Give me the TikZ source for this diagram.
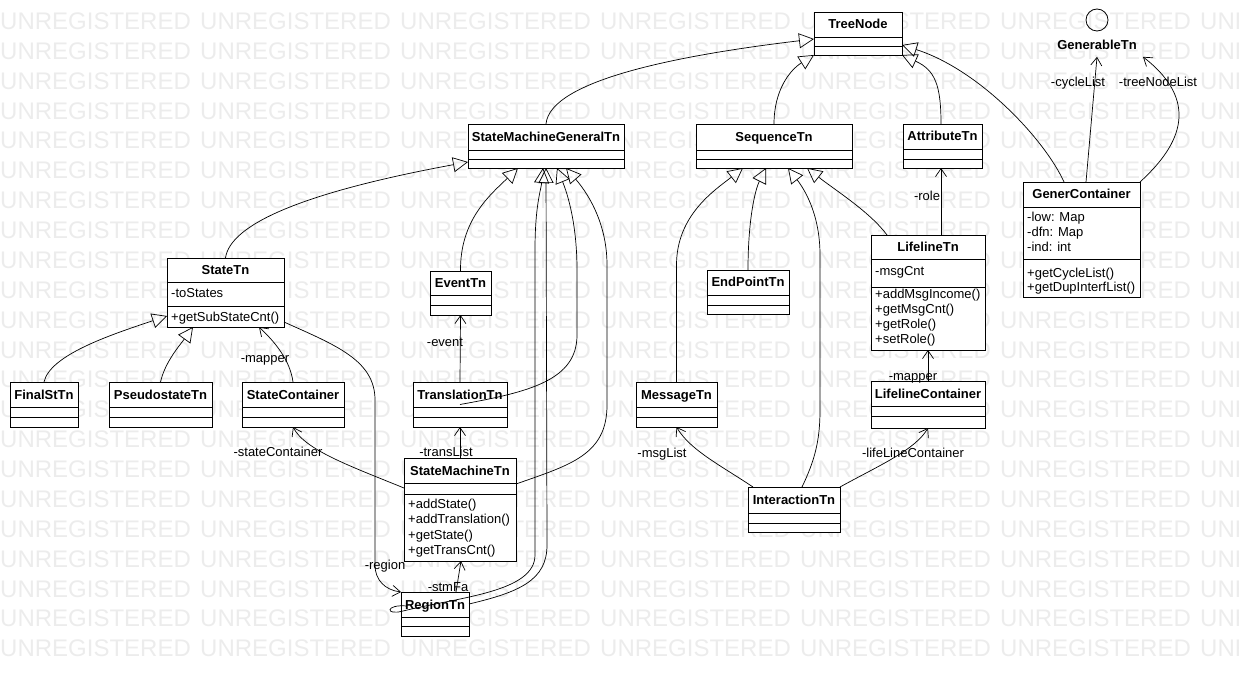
\documentclass[tikz,border=0pt]{standalone}
\usepackage{fontspec}
\setmainfont{Liberation Sans}
\usetikzlibrary{arrows.meta}
\definecolor{markGray}{RGB}{236,236,236}

% class box: name, left, top, right, bottom, first rule, second rule, title
\newcommand{\classbox}[8]{%
  \node[clsbox, minimum width={#4pt-#2pt}, minimum height={#5pt-#3pt}, anchor=north west] (#1) at (#2,#3) {};
  \draw[boxline] (#2,#6) -- (#4,#6) (#2,#7) -- (#4,#7);
  \node[clstitle] (#1-title) at ({(#2+#4)/2},{(#3+#6)/2+4.5}) {#8};
}

\begin{document}
\begin{tikzpicture}[x=1pt, y=-1pt,
    clsbox/.style={draw=black, fill=white, line width=0.8pt, inner sep=0pt, outer sep=0pt},
    boxline/.style={draw=black, line width=0.8pt},
    clstitle/.style={font=\bfseries\fontsize{13}{15}\selectfont, anchor=base, inner sep=0pt},
    member/.style={font=\fontsize{13}{15}\selectfont, anchor=base west, inner sep=0pt},
    rolename/.style={font=\fontsize{13}{15}\selectfont, anchor=base, inner sep=0pt},
    genline/.style={draw=black, line width=0.7pt, -{Triangle[open, length=15pt, width=15pt]}},
    assocline/.style={draw=black, line width=0.7pt, -{Straight Barb[length=8pt, width=11pt]}},
    watermark/.style={font=\fontsize{24}{26}\selectfont, text=markGray, anchor=base west, inner sep=0pt}]
  \useasboundingbox (0,0) rectangle (1239,676);

  % background stamp
  \begin{scope}
    \clip (0,0) rectangle (1239,676);
    \foreach \r in {0,...,21}
      \foreach \c in {0,...,6}
        \node[watermark] (wm-\r-\c) at (200*\c, 29.5+29.87*\r) {UNREGISTERED};
  \end{scope}

  % classes
  \classbox{TreeNode}{814}{12}{902}{55}{37}{46}{TreeNode}
  \classbox{SMGeneral}{468}{124}{624}{168}{150}{159}{StateMachineGeneralTn}
  \classbox{SequenceTn}{696}{124}{852}{168}{150}{159}{SequenceTn}
  \classbox{AttributeTn}{903}{124}{982}{168}{149}{159}{AttributeTn}
  \classbox{GenerContainer}{1023}{182}{1140}{297}{207}{259}{GenerContainer}
  \classbox{StateTn}{167}{258}{284}{327}{282}{306}{StateTn}
  \classbox{EventTn}{430}{271}{491}{315}{295}{305}{EventTn}
  \classbox{EndPointTn}{707}{270}{789}{314}{295}{305}{EndPointTn}
  \classbox{LifelineTn}{871}{235}{985}{350}{259}{287}{LifelineTn}
  \classbox{FinalStTn}{10}{382}{78}{427}{407}{417}{FinalStTn}
  \classbox{PseudostateTn}{109}{382}{212}{427}{407}{417}{PseudostateTn}
  \classbox{StateContainer}{242}{382}{344}{427}{407}{417}{StateContainer}
  \classbox{TranslationTn}{413}{382}{507}{427}{407}{417}{TranslationTn}
  \classbox{MessageTn}{636}{382}{717}{427}{407}{417}{MessageTn}
  \classbox{LifelineContainer}{871}{381}{985}{428}{406}{416}{LifelineContainer}
  \classbox{StateMachineTn}{404}{458}{516}{561}{483}{494}{StateMachineTn}
  \classbox{InteractionTn}{748}{487}{840}{532}{513}{523}{InteractionTn}
  \classbox{RegionTn}{401}{592}{469}{636}{617}{626}{RegionTn}

  % interface
  \node[draw, circle, minimum size=22pt, inner sep=0pt, line width=0.8pt] (GenerableTn-icon) at (1097,20) {};
  \node[clstitle] (GenerableTn) at (1097,49.5) {GenerableTn};

  % members
  \node[member] (StateTn-a1) at (171,297.5) {-toStates};
  \node[member] (StateTn-m1) at (171,321.5) {+getSubStateCnt()};
  \node[member] (LifelineTn-a1) at (875,275.5) {-msgCnt};
  \foreach \t [count=\i from 0] in {{+addMsgIncome()},{+getMsgCnt()},{+getRole()},{+setRole()}}
    \node[member] (LifelineTn-m\i) at (875,298.5+15*\i) {\t};
  \foreach \t [count=\i from 0] in {{-low: Map},{-dfn: Map},{-ind: int}}
    \node[member] (GenerContainer-a\i) at (1027,221.5+15*\i) {\t};
  \foreach \t [count=\i from 0] in {{+getCycleList()},{+getDupInterfList()}}
    \node[member] (GenerContainer-m\i) at (1027,277+14.6*\i) {\t};
  \foreach \t [count=\i from 0] in {{+addState()},{+addTranslation()},{+getState()},{+getTransCnt()}}
    \node[member] (StateMachineTn-m\i) at (408,508+15.5*\i) {\t};

  % generalisations
  \draw[genline] (SMGeneral.north) .. controls (550,80) and (680,55) .. ([yshift=-5.5pt]TreeNode.west);
  \draw[genline] (SequenceTn.north) .. controls (774,90) and (790,70) .. (TreeNode.south west);
  \draw[genline] ([xshift=-1.5pt]AttributeTn.north) .. controls (941,85) and (935,70) .. (TreeNode.south east);
  \draw[genline] ([xshift=-17.5pt]GenerContainer.north) .. controls (1045,140) and (980,70) .. ([yshift=-11.5pt]TreeNode.east);
  \draw[genline] (StateTn.north) .. controls (230,225) and (300,193) .. ([yshift=-16pt]SMGeneral.west);
  \draw[genline] (FinalStTn.north) .. controls (50,355) and (110,335) .. ([yshift=-23.5pt]StateTn.west);
  \draw[genline] (PseudostateTn.north) .. controls (165,362) and (180,345) .. ([xshift=-32.5pt]StateTn.south);
  \draw[genline] (EventTn.north) .. controls (460,220) and (490,195) .. ([xshift=-28pt]SMGeneral.south);
  \draw[genline] (TranslationTn.center) .. controls (530,392) and (577,380) .. (577,335) -- (577,270)
    .. controls (577,225) and (568,195) .. ([xshift=11pt]SMGeneral.south);
  \draw[genline] ([yshift=25.5pt]StateMachineTn.east) .. controls (570,465) and (607,455) .. (607,405) -- (607,265)
    .. controls (607,220) and (585,190) .. ([xshift=20pt]SMGeneral.south);
  \draw[genline] ([xshift=-28pt,yshift=8pt]RegionTn.center) .. controls (385,604) and (385,616) .. (403,611)
    .. controls (460,597) and (535,592) .. (535,555) -- (535,250)
    .. controls (535,205) and (541,190) .. ([xshift=-3pt]SMGeneral.south);
  \draw[genline] ([yshift=10pt]RegionTn.east) .. controls (520,592) and (547,580) .. (547,545) -- (SMGeneral.south);
  \draw[genline] (MessageTn.north) -- (676.5,265) .. controls (676.5,215) and (715,190) .. ([xshift=-31pt]SequenceTn.south);
  \draw[genline] (EndPointTn.north) .. controls (748,220) and (755,190) .. ([xshift=-8pt]SequenceTn.south);
  \draw[genline] ([xshift=8pt]InteractionTn.north) .. controls (815,460) and (820,440) .. (820,410) -- (820,255)
    .. controls (820,215) and (805,190) .. ([xshift=14pt]SequenceTn.south);
  \draw[genline] ([xshift=-41pt]LifelineTn.north) .. controls (870,212) and (835,190) .. ([xshift=33pt]SequenceTn.south);

  % associations
  \draw[assocline] ([yshift=-29.5pt]StateTn.east) .. controls (335,345) and (375,360) .. (375,400) -- (375,565)
    .. controls (375,580) and (385,590) .. (RegionTn.north west);
  \draw[assocline] ([xshift=21pt]RegionTn.north) -- ([xshift=1pt]StateMachineTn.south);
  \draw[assocline] ([yshift=21.5pt]StateMachineTn.west) .. controls (350,466) and (305,450) .. (StateContainer.south);
  \draw[assocline] (StateMachineTn.north) -- (TranslationTn.south);
  \draw[assocline] (TranslationTn.north) -- (EventTn.south);
  \draw[assocline] (StateContainer.north) .. controls (290,360) and (275,342) .. ([xshift=33.5pt]StateTn.south);
  \draw[assocline] ([xshift=13pt]LifelineTn.north) -- ([xshift=-1.5pt]AttributeTn.south);
  \draw[assocline] (LifelineContainer.north) -- (LifelineTn.south);
  \draw[assocline] (InteractionTn.north east) .. controls (880,465) and (915,450) .. (LifelineContainer.south);
  \draw[assocline] ([xshift=-41pt]InteractionTn.north) .. controls (720,465) and (690,450) .. (MessageTn.south);
  \draw[assocline] ([xshift=4.5pt]GenerContainer.north) -- ([yshift=-12pt]GenerableTn.center);
  \draw[assocline] (GenerContainer.north east) .. controls (1175,150) and (1205,105) .. ([xshift=46pt,yshift=-12pt]GenerableTn.center);

  % role names
  \node[rolename] (lbl-region) at (385,569.5) {-region};
  \node[rolename] (lbl-stmFa) at (448,591.5) {-stmFa};
  \node[rolename] (lbl-stateContainer) at (278,456.5) {-stateContainer};
  \node[rolename] (lbl-transList) at (446,456.5) {-transList};
  \node[rolename] (lbl-event) at (445,346.5) {-event};
  \node[rolename] (lbl-mapper) at (265,362.5) {-mapper};
  \node[rolename] (lbl-role) at (927,200.5) {-role};
  \node[rolename] (lbl-lifeMapper) at (913,380.5) {-mapper};
  \node[rolename] (lbl-lifeLineContainer) at (913,457.5) {-lifeLineContainer};
  \node[rolename] (lbl-msgList) at (662,457.5) {-msgList};
  \node[rolename] (lbl-cycleList) at (1078,86.5) {-cycleList};
  \node[rolename] (lbl-treeNodeList) at (1158,86.5) {-treeNodeList};
\end{tikzpicture}
\end{document}
